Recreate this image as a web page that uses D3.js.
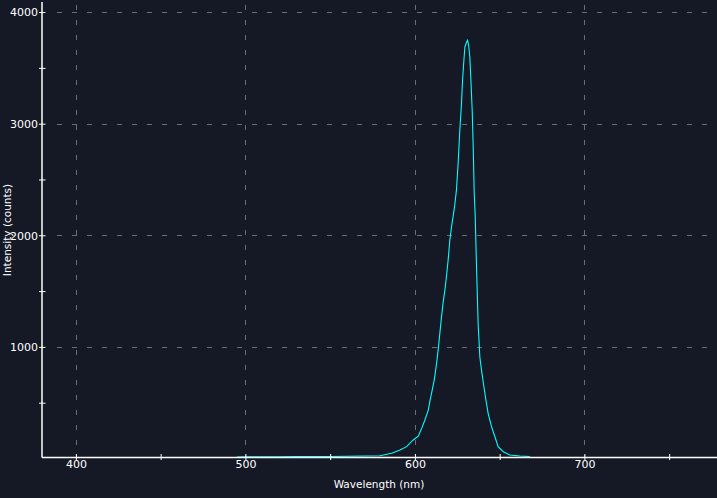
<!DOCTYPE html>
<html><head><meta charset="utf-8">
<script src="https://cdn.jsdelivr.net/npm/d3@7"></script>
<style>
html,body{margin:0;padding:0;background:#151825;}
svg{display:block;}
</style></head>
<body>
<svg id="chart" width="717" height="498"></svg>
<script>
const wavelengths = [495,500,510,520,530,540,550,560,570,579.4,586.3,591.2,595.1,599.0,602.0,604.0,605.9,607.9,608.8,610.2,611.4,612.8,613.7,614.3,615.7,616.6,617.7,618.6,619.6,620.6,621.6,622.5,623.5,624.5,625.5,626.5,627.5,628.1,628.9,629.5,630.5,631.1,631.7,632.4,633.0,633.8,634.4,635.0,635.6,636.2,636.8,637.3,637.8,638.3,639.3,640.7,641.9,643.2,645.2,647.2,649.1,652.1,656.0,661.9,667.8];
const intensities = [14,15,15,16,17,18,18,20,22,25,47,76,106,166,201,270,345,434,509,613,703,852,971,1061,1269,1392,1509,1628,1777,1956,2075,2165,2269,2404,2643,2941,3180,3389,3568,3687,3731,3747,3702,3597,3404,3120,2791,2374,2165,1807,1479,1210,1061,911,792,643,524,405,285,195,106,61,31,22,18];
const xMajorTicks = [400,500,600,700];
const xMinorTicks = [450,550,650,750];
const yMajorTicks = [1000,2000,3000,4000];
const yMinorTicks = [500,1500,2500,3500];
const xTitle = "Wavelength (nm)";
const yTitle = "Intensity (counts)";

const svg = d3.select("#chart");
const W = 717, H = 498;
const mLeft = 42, mBottom = 457.5, mTop = 2;
const x = d3.scaleLinear().domain([380, 780]).range([42, 720]);
const y = d3.scaleLinear().domain([0, 4090]).range([458.5, 2]);
const FONT = "Tahoma, 'DejaVu Sans', Verdana, sans-serif";

svg.append("rect").attr("width", W).attr("height", H).attr("fill", "#151825");

const grid = svg.append("g").attr("stroke", "#6b6d76").attr("stroke-width", 1)
  .attr("stroke-dasharray", "5,10").attr("shape-rendering", "crispEdges");
grid.selectAll("line.v").data(xMajorTicks).join("line")
  .attr("x1", d => Math.round(x(d)) + 0.5).attr("x2", d => Math.round(x(d)) + 0.5)
  .attr("y1", 5).attr("y2", mBottom);
grid.selectAll("line.h").data(yMajorTicks).join("line")
  .attr("y1", d => Math.round(y(d)) + 0.5).attr("y2", d => Math.round(y(d)) + 0.5)
  .attr("x1", 57).attr("x2", W);

const line = d3.line().x((d, i) => x(wavelengths[i])).y(d => y(d));
svg.append("path").datum(intensities)
  .attr("d", line).attr("fill", "none").attr("stroke", "#00ffff").attr("stroke-width", 1.1);

const xAxis = d3.axisBottom(x).tickValues(xMajorTicks.concat(xMinorTicks))
  .tickSize(0).tickFormat(d => xMajorTicks.includes(d) ? d : "");
const gx = svg.append("g").attr("transform", `translate(0,${mBottom})`).call(xAxis);
gx.select(".domain").remove();
gx.append("line").attr("x1", mLeft).attr("x2", W).attr("y1", 0).attr("y2", 0).attr("stroke", "#fff").attr("stroke-width", 1.5);
gx.selectAll(".tick").append("line").attr("y1", -3.5).attr("y2", 2.5).attr("stroke", "#fff").attr("stroke-width", 1);
gx.selectAll(".tick text").attr("fill", "#fff").attr("dy", "0.3em").attr("y", 7)
  .style("font-family", FONT).style("font-size", "11px");

const yAxis = d3.axisLeft(y).tickValues(yMajorTicks.concat(yMinorTicks))
  .tickSize(0).tickFormat(d => yMajorTicks.includes(d) ? d : "");
const gy = svg.append("g").attr("transform", `translate(${mLeft},0)`).call(yAxis);
gy.select(".domain").remove();
gy.append("line").attr("x1", 0).attr("x2", 0).attr("y1", mTop).attr("y2", mBottom).attr("stroke", "#fff").attr("stroke-width", 1.5);
gy.selectAll(".tick").append("line").attr("x1", -3).attr("x2", 3.5).attr("stroke", "#fff").attr("stroke-width", 1);
gy.selectAll(".tick text").attr("fill", "#fff").attr("x", -4).attr("dy", "0.35em")
  .style("font-family", FONT).style("font-size", "11px");

svg.append("text").text(xTitle).attr("x", 379).attr("y", 488).attr("text-anchor", "middle")
  .attr("fill", "#fff").style("font-family", FONT).style("font-size", "10.5px");
svg.append("text").text(yTitle).attr("transform", "translate(11,230) rotate(-90)").attr("text-anchor", "middle")
  .attr("fill", "#fff").style("font-family", FONT).style("font-size", "10.5px");
</script>
</body></html>
